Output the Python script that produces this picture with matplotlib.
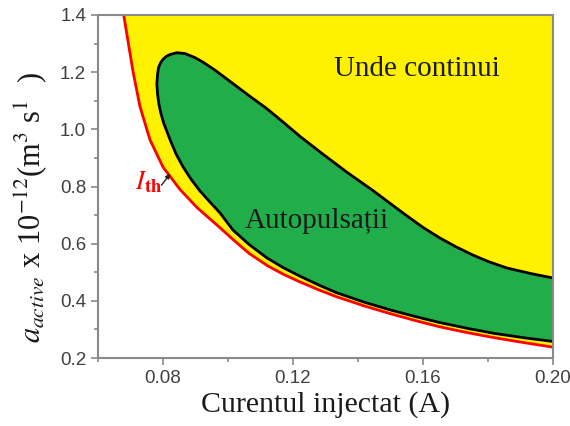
import matplotlib
matplotlib.use("Agg")
import matplotlib.pyplot as plt
from matplotlib.ticker import MultipleLocator

plt.rcParams['mathtext.fontset'] = 'stix'

# Threshold current curve (red)
red_x = [0.0679, 0.0692, 0.0708, 0.0729, 0.0760, 0.0800, 0.0852, 0.0905,
         0.0975, 0.1015, 0.1065, 0.1120, 0.1170, 0.1222, 0.1280, 0.1335,
         0.1420, 0.1500, 0.1580, 0.1652, 0.1740, 0.1820, 0.1910, 0.2000]
red_y = [1.400, 1.310, 1.200, 1.080, 0.963, 0.868, 0.790, 0.726,
         0.656, 0.615, 0.566, 0.524, 0.493, 0.466, 0.438, 0.414,
         0.382, 0.355, 0.330, 0.309, 0.288, 0.271, 0.254, 0.238]

# Self-pulsation region boundary: upper branch (from nose to right edge)
up_x = [0.0781, 0.0783, 0.0786, 0.0792, 0.0800, 0.0810, 0.0822, 0.0843,
        0.0868, 0.0898, 0.0923, 0.0960, 0.1006, 0.1068, 0.1120, 0.1170,
        0.1222, 0.1290, 0.1366, 0.1446, 0.1500, 0.1551, 0.1600, 0.1652,
        0.1700, 0.1754, 0.1800, 0.1858, 0.1930, 0.2000]
up_y = [1.160, 1.190, 1.215, 1.232, 1.245, 1.255, 1.262, 1.268,
        1.265, 1.251, 1.235, 1.207, 1.168, 1.115, 1.072, 1.025,
        0.975, 0.915, 0.850, 0.786, 0.740, 0.697, 0.657, 0.620,
        0.590, 0.560, 0.538, 0.515, 0.496, 0.480]
# lower branch (from nose to right edge)
lo_x = [0.0781, 0.0783, 0.0787, 0.0793, 0.0802, 0.0822, 0.0840, 0.0862,
        0.0886, 0.0914, 0.0945, 0.0975, 0.1015, 0.1065, 0.1120, 0.1170,
        0.1222, 0.1280, 0.1335, 0.1420, 0.1500, 0.1580, 0.1652, 0.1740,
        0.1820, 0.1910, 0.2000]
lo_y = [1.160, 1.125, 1.090, 1.058, 1.022, 0.963, 0.914, 0.868,
        0.826, 0.784, 0.745, 0.708, 0.648, 0.597, 0.550, 0.516,
        0.486, 0.455, 0.428, 0.395, 0.368, 0.344, 0.324, 0.303,
        0.286, 0.271, 0.258]

xticks = [0.08, 0.12, 0.16, 0.20]
yticks = [0.2, 0.4, 0.6, 0.8, 1.0, 1.2, 1.4]

YELLOW = '#FFF200'
GREEN = '#22AD4B'
RED = '#FF0000'

fig = plt.figure(figsize=(5.7, 4.26), dpi=100)
ax = fig.add_axes([0.172, 0.1596, 0.798, 0.8052])

ax.fill_between(red_x, red_y, 1.4, color=YELLOW, lw=0, zorder=1)
poly_x = up_x + lo_x[::-1]
poly_y = up_y + lo_y[::-1]
ax.fill(poly_x, poly_y, color=GREEN, lw=0, zorder=2)
ax.plot(up_x[::-1] + lo_x[1:], up_y[::-1] + lo_y[1:], color='black', lw=2,
        zorder=3, solid_joinstyle='round')
ax.plot(red_x, red_y, color=RED, lw=2, zorder=4, solid_joinstyle='round')

ax.set_xlim(0.06, 0.20)
ax.set_ylim(0.2, 1.4)
ax.set_xticks(xticks)
ax.set_xticklabels([f"{t:.2f}" for t in xticks])
ax.set_yticks(yticks)
ax.set_yticklabels([f"{t:.1f}" for t in yticks])
ax.xaxis.set_minor_locator(MultipleLocator(0.02))
ax.yaxis.set_minor_locator(MultipleLocator(0.1))

for s in ax.spines.values():
    s.set_color('#8a8a8a')
    s.set_linewidth(1.5)
    s.set_zorder(5)
ax.tick_params(which='both', direction='out', color='#8a8a8a', width=1.2,
               labelsize=13.5, labelcolor='#404040', top=False, right=False)
ax.tick_params(which='major', length=5)
ax.tick_params(which='minor', length=3)
for lab in ax.get_xticklabels() + ax.get_yticklabels():
    lab.set_family('Liberation Sans')

serif = 'Liberation Serif'
ax.text(0.1582, 1.187, 'Unde continui', fontsize=21, family=serif,
        ha='center', va='baseline', color='#1a1a1a', zorder=6)
ax.text(0.1274, 0.655, 'Autopulsații', fontsize=21, family=serif,
        ha='center', va='baseline', color='#1a1a1a', zorder=6)
ax.text(0.0756, 0.815, r'$\mathbf{\mathit{I}_{th}}$', fontsize=19,
        color=RED, ha='center', va='center', zorder=6)
ax.annotate('', xy=(0.0828, 0.853), xytext=(0.0790, 0.797),
            arrowprops=dict(arrowstyle='-|>', color='#222222', lw=1,
                            mutation_scale=7), zorder=6)

ax.set_xlabel('Curentul injectat (A)', fontsize=21.5, family=serif,
              color='#1a1a1a')
ax.xaxis.set_label_coords(0.5, -0.095)
ax.set_ylabel(r'$a_{active}$ x 10$^{-12}$(m$^3$ s$^1$  )', fontsize=22,
              family=serif, color='#1a1a1a')
ax.yaxis.set_label_coords(-0.108, 0.44)

fig.savefig('out.png', dpi=100)
